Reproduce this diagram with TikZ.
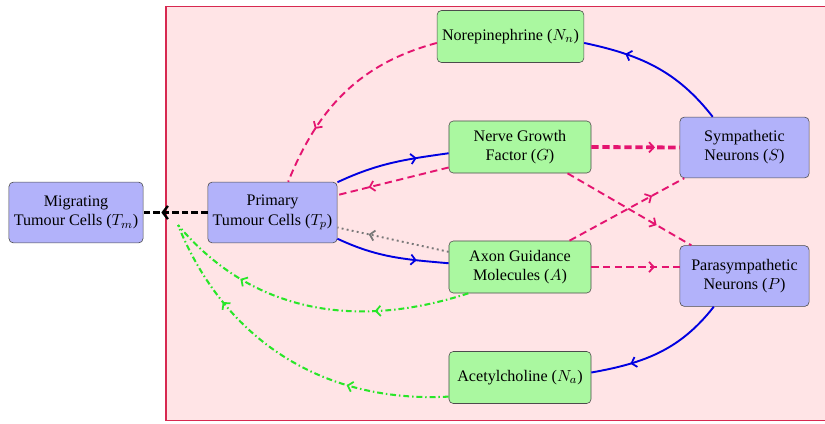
\documentclass[tikz,border=0pt]{standalone}
\usepackage{fontspec}
\setmainfont{Liberation Serif}
\usetikzlibrary{decorations.markings, arrows.meta}
\definecolor{nodeblue}{RGB}{178,178,250}
\definecolor{nodegreen}{RGB}{170,248,160}
\definecolor{bgpink}{RGB}{255,228,230}
\definecolor{bgedge}{RGB}{215,40,80}
\definecolor{linkmag}{RGB}{228,20,112}
\definecolor{linkblue}{RGB}{0,0,225}
\definecolor{linkgreen}{RGB}{40,230,40}
\definecolor{linkgray}{RGB}{120,120,120}
\begin{document}
\begin{tikzpicture}[x=0.024cm, y=0.024cm, >={Straight Barb[length=3.2pt, width=7pt, line width=1.2pt]},
    every node/.style={draw=black!70, rounded corners=3pt, align=center,
        font=\fontsize{11}{13}\selectfont},
    cell/.style={fill=nodeblue, minimum width=3.1cm, minimum height=1.46cm},
    factor/.style={fill=nodegreen, minimum width=3.41cm, minimum height=1.25cm},
    midarr/.style={postaction={decorate, decoration={markings,
        mark=at position 0.72 with {\arrow{>}}}}},
    twoarr/.style={postaction={decorate, decoration={markings,
        mark=at position 0.3 with {\arrow{>}},
        mark=at position 0.74 with {\arrow{>}}}}},
    release/.style={linkblue, line width=1.3pt, midarr},
    signal/.style={linkmag, line width=1.3pt, dash pattern=on 5pt off 3pt, midarr},
    feedback/.style={linkgreen, line width=1.4pt,
        dash pattern=on 4pt off 2pt on 1pt off 2pt, twoarr}]
\useasboundingbox (0,0) rectangle (825,423);
\fill[bgpink, draw=bgedge, line width=0.8pt] (166,2.5) rectangle (830,416.5);

\node[cell] (Tm) at (76,210.5) {Migrating\\Tumour Cells ($T_m$)};
\node[cell] (Tp) at (272.5,210.5) {Primary\\Tumour Cells ($T_p$)};
\node[factor, minimum width=3.29cm] (Nn) at (510.5,386.5) {Norepinephrine ($N_n$)};
\node[factor] (G) at (520,276) {Nerve Growth\\Factor ($G$)};
\node[factor] (A) at (520,156) {Axon Guidance\\Molecules ($A$)};
\node[factor] (Na) at (520,45.5) {Acetylcholine ($N_a$)};
\node[cell] (S) at (744.5,275.5) {Sympathetic\\Neurons ($S$)};
\node[cell] (P) at (744.5,147) {Parasympathetic\\Neurons ($P$)};
\coordinate (tpin) at (178,198);

% tumour cells
\draw[black, line width=2.4pt, dash pattern=on 4.5pt off 2pt,
    >={Straight Barb[length=3.5pt, width=9pt, line width=1.6pt]}, midarr] (Tp.west) -- (Tm.east);
\draw[release] (Tp.25) to[out=25, in=188] (G.185);
\draw[release] (Tp.-22) to[out=-25, in=175] (A.177);
\draw[signal] (G.196) -- (Tp.15);
\draw[linkgray, line width=1.3pt, dash pattern=on 1.3pt off 2.2pt, midarr] (A.168) -- (Tp.-13);

% nerves
\draw[signal, line width=2.6pt, dash pattern=on 5pt off 2.5pt] (G.east) -- (S.west);
\draw[signal] (G.-29) -- (P.150);
\draw[signal] (A.28) -- (S.207);
\draw[signal] (A.east) -- (A.east -| P.west);
\draw[release] (S.136) to[out=128, in=-12] (Nn.-5);
\draw[release] (P.225) to[out=232, in=10] (Na.4);
\draw[signal] (Nn.185) to[out=195, in=68] (Tp.63);

% back to the tumour
\draw[feedback] (A.207) to[out=198, in=-50] (tpin);
\draw[feedback] (Na.195) to[out=183, in=-68] (tpin);
\end{tikzpicture}
\end{document}
